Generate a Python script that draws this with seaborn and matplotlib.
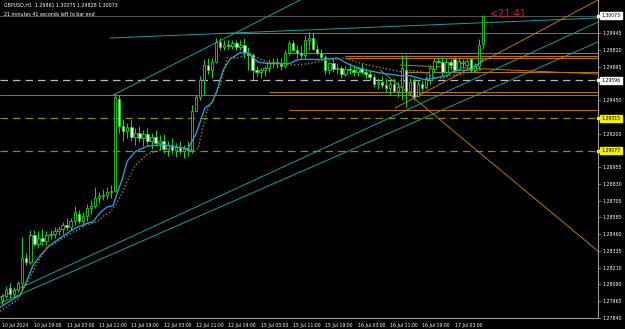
import matplotlib
matplotlib.use("Agg")
import matplotlib.pyplot as plt
import matplotlib.transforms as mtransforms
import seaborn as sns
import pandas as pd
import numpy as np

# ---------------- data ----------------
opens = [1.2797,1.2800,1.2806,1.2802,1.2805,1.2810,1.2828,1.2825,1.2845,1.2839,
         1.2843,1.2841,1.2845,1.2846,1.2848,1.2850,1.2853,1.2851,1.2856,1.2861,
         1.2856,1.2859,1.2865,1.2867,1.2873,1.2874,1.2875,1.2877,1.2878,1.2946,
         1.2926,1.2922,1.2925,1.2918,1.2921,1.2917,1.2920,1.2915,1.2918,1.2913,
         1.2915,1.2909,1.2912,1.2908,1.2910,1.2907,1.2909,1.2908,1.2937,1.2947,
         1.2960,1.2971,1.2967,1.2973,1.2988,1.2984,1.2986,1.2985,1.2987,1.2984,
         1.2986,1.2980,1.2978,1.2967,1.2966,1.2967,1.2969,1.2972,1.2973,1.2972,
         1.2970,1.2980,1.2987,1.2982,1.2980,1.2978,1.2989,1.2991,1.2983,1.2980,
         1.2977,1.2967,1.2972,1.2968,1.2969,1.2964,1.2968,1.2967,1.2966,1.2969,
         1.2966,1.2964,1.2962,1.2957,1.2958,1.2956,1.2954,1.2957,1.2952,1.2955,
         1.2967,1.2952,1.2959,1.2948,1.2957,1.2955,1.2960,1.2968,1.2974,1.2973,
         1.2966,1.2973,1.2975,1.2968,1.2972,1.2971,1.2975,1.2967,1.2970,1.29861]
highs = [1.2802,1.2808,1.2810,1.2807,1.2811,1.2844,1.2832,1.2849,1.2849,1.2848,
         1.2850,1.2848,1.2849,1.2851,1.2852,1.2855,1.2858,1.2858,1.2867,1.2864,
         1.2862,1.2868,1.2871,1.2881,1.2877,1.2879,1.2881,1.2882,1.2950,1.2949,
         1.2931,1.2928,1.2930,1.2924,1.2926,1.2923,1.2924,1.2921,1.2923,1.2919,
         1.2920,1.2915,1.2917,1.2913,1.2915,1.2912,1.2915,1.2941,1.2949,1.2963,
         1.2975,1.2976,1.2976,1.2991,1.2991,1.2989,1.2989,1.2989,1.2989,1.2989,
         1.2991,1.2984,1.2980,1.2970,1.2969,1.2970,1.2975,1.2976,1.2976,1.2976,
         1.2982,1.2989,1.2989,1.2986,1.2986,1.2993,1.2995,1.2995,1.2986,1.2983,
         1.2978,1.2973,1.2975,1.2972,1.2970,1.2970,1.2972,1.2970,1.2970,1.2972,
         1.2969,1.2967,1.2964,1.2961,1.2963,1.2961,1.2960,1.2961,1.2958,1.2978,
         1.2978,1.2961,1.2961,1.2960,1.2960,1.2963,1.2971,1.2976,1.2977,1.2977,
         1.2976,1.2975,1.2977,1.2976,1.2975,1.2975,1.2976,1.2972,1.2990,1.30075]
lows = [1.2794,1.2799,1.2799,1.2799,1.2803,1.2805,1.2823,1.2824,1.2837,1.2836,
        1.2838,1.2838,1.2842,1.2843,1.2845,1.2846,1.2849,1.2849,1.2853,1.2854,
        1.2852,1.2856,1.2861,1.2865,1.2869,1.2871,1.2872,1.2873,1.2877,1.2921,
        1.2915,1.2917,1.2915,1.2912,1.2914,1.2911,1.2912,1.2909,1.2911,1.2908,
        1.2906,1.2904,1.2906,1.2903,1.2905,1.2902,1.2904,1.2906,1.2936,1.2945,
        1.2949,1.2964,1.2961,1.2972,1.2982,1.2982,1.2983,1.2983,1.2982,1.2982,
        1.2976,1.2967,1.2960,1.2963,1.2961,1.2963,1.2966,1.2969,1.2969,1.2967,
        1.2969,1.2978,1.2981,1.2976,1.2975,1.2976,1.2982,1.2982,1.2978,1.2975,
        1.2964,1.2964,1.2966,1.2964,1.2961,1.2963,1.2964,1.2963,1.2963,1.2964,
        1.2961,1.2960,1.2955,1.2953,1.2954,1.2951,1.2949,1.2951,1.2947,1.2945,
        1.2940,1.2949,1.2945,1.2947,1.2952,1.2953,1.2957,1.2966,1.2972,1.2963,
        1.2965,1.2967,1.2966,1.2967,1.2969,1.2969,1.2966,1.2966,1.2967,1.29828]
closes = [1.2800,1.2805,1.2802,1.2805,1.2810,1.2828,1.2825,1.2845,1.2839,1.2843,
          1.2841,1.2845,1.2846,1.2848,1.2850,1.2853,1.2851,1.2856,1.2862,1.2856,
          1.2859,1.2865,1.2867,1.2873,1.2874,1.2875,1.2877,1.2878,1.2947,1.2926,
          1.2922,1.2925,1.2918,1.2921,1.2917,1.2920,1.2915,1.2918,1.2913,1.2915,
          1.2909,1.2912,1.2908,1.2910,1.2907,1.2909,1.2908,1.2937,1.2947,1.2960,
          1.2971,1.2967,1.2973,1.2988,1.2984,1.2986,1.2985,1.2987,1.2984,1.2986,
          1.2980,1.2978,1.2967,1.2966,1.2967,1.2969,1.2972,1.2973,1.2972,1.2970,
          1.2980,1.2987,1.2982,1.2980,1.2978,1.2989,1.2991,1.2983,1.2980,1.2977,
          1.2967,1.2972,1.2968,1.2969,1.2964,1.2968,1.2967,1.2966,1.2969,1.2966,
          1.2964,1.2962,1.2957,1.2958,1.2956,1.2954,1.2957,1.2952,1.2955,1.2969,
          1.2952,1.2958,1.2947,1.2957,1.2954,1.2961,1.2969,1.2974,1.2973,1.2966,
          1.2973,1.2971,1.2967,1.2974,1.2973,1.2974,1.2967,1.2970,1.2986,1.30073]

ma_fast_bar = [-0.5,4.5,6.2,7.7,9.4,11.9,14.4,16.8,18.6,21,22.5,24.3,26,27.5,28.7,29.7,
               31,33,36,40,44,46,48,50.2,52,53.2,54.7,56.4,58.9,60.6,61.9,63.4,65.6,
               68.8,71.3,72.5,73.8,77,78.7,82.9,83.7,85.4,87.9,90.3,93.6,98.5,101,
               103.5,104.7,106.7,108.4,110.1,111.6,113.4,115.1,116.6,117.8,118.6,119]
ma_fast_val = [1.2792,1.2801,1.2812,1.2823,1.2830,1.2838,1.2843,1.2848,1.2851,1.2854,
               1.2855,1.2862,1.2866,1.2867,1.2878,1.2886,1.2900,1.2907,1.2911,1.2912,
               1.2910,1.2909,1.2920,1.2939,1.2943,1.2952,1.2967,1.2975,1.2980,1.2980,
               1.2977,1.2973,1.2972,1.2972,1.2972,1.2974,1.2975,1.2975,1.2975,1.2976,
               1.2975,1.2972,1.2969,1.2967,1.2965,1.2963,1.2963,1.2961,1.2960,1.2961,
               1.2962,1.2963,1.2966,1.2967,1.2967,1.2968,1.2971,1.2973,1.2975]
ma_slow_bar = [-0.5,3.7,5.2,7,8.7,11.1,13.6,16.1,18.6,21,23.5,25,26.7,28,29.9,
               31,33,36,40,44,46,48.5,50.7,52.2,54,55.7,58.2,60.2,61.9,63.4,65.6,
               68.1,71.3,73,76.2,78.7,82.9,84.4,86.9,90.3,93.6,98.5,101.7,104.7,
               106.7,109.2,110.9,113.4,116.6,118.3,119]
ma_slow_val = [1.2789,1.2797,1.2805,1.2814,1.2825,1.2836,1.2840,1.2845,1.2849,1.2853,
               1.2855,1.2859,1.2862,1.2867,1.2877,1.2885,1.2897,1.2905,1.2909,1.2910,
               1.2908,1.2909,1.2937,1.2945,1.2956,1.2976,1.2976,1.2978,1.2978,1.2976,
               1.2973,1.2971,1.2971,1.2971,1.2972,1.2974,1.2975,1.2976,1.2974,1.2971,
               1.2969,1.2966,1.2967,1.2965,1.2962,1.2961,1.2963,1.2964,1.2966,1.2967,
               1.2969]

tick_bars = [0, 8, 16, 24, 32, 40, 48, 56, 64, 72, 80, 88, 96, 104, 112]
tick_labels = ["10 Jul 2024", "10 Jul 19:00", "11 Jul 03:00", "11 Jul 11:00",
               "11 Jul 19:00", "12 Jul 03:00", "12 Jul 11:00", "12 Jul 19:00",
               "15 Jul 03:00", "15 Jul 11:00", "15 Jul 19:00", "16 Jul 03:00",
               "16 Jul 11:00", "16 Jul 19:00", "17 Jul 03:00"]
price_ticks = [1.29945, 1.29820, 1.29695, 1.29575, 1.29450, 1.29200, 1.28955,
               1.28830, 1.28705, 1.28585, 1.28460, 1.28335, 1.28210, 1.28090,
               1.27965, 1.27840]

bid_price = 1.30073
gray_dash_price = 1.29596
olive_dash_prices = [1.29315, 1.29077]
teal_hlines = [1.29487]
# trend lines: (bar1, price1, bar2, price2)
teal_trend = [(-0.5, 1.27994, 147.5, 1.30026),
              (-0.5, 1.27950, 147.5, 1.29879),
              (27.5, 1.29487, 73.8, 1.30189),
              (26.7, 1.29908, 147.5, 1.30056),
              (55.0, 1.29945, 147.5, 1.29945)]
orange_trend = [(93.6, 1.29672, 147.5, 1.28334),
                (97.3, 1.29391, 147.5, 1.30189),
                (98.5, 1.29709, 147.5, 1.29642),
                (71.0, 1.29797, 147.5, 1.29797),
                (85.0, 1.29775, 147.5, 1.29775),
                (85.0, 1.29760, 147.5, 1.29760),
                (66.0, 1.29509, 147.5, 1.29509),
                (71.0, 1.29376, 147.5, 1.29376),
                (100.0, 1.29657, 147.5, 1.29657)]

header = "GBPUSD,H1  1.29861 1.30075 1.29828 1.30073"
subheader = "21 minutes 41 seconds left to bar end"
timer_text = "<21:41"

# ---------------- styling ----------------
sns.set_theme(style="dark")
plt.rcParams["font.family"] = ["DejaVu Sans"]

W, H = 625, 329
fig = plt.figure(figsize=(W / 100, H / 100), dpi=100, facecolor="black")
ax = fig.add_axes([0, (H - 318) / H, 598 / W, 318 / H])
ax.set_facecolor("black")
ax.set_xlim(-0.5, 147.5)
ax.set_ylim(1.27840, 1.30189)
ax.grid(False)

TEAL = "#1a9e9e"
ORANGE = "#c07408"
GREEN = "#1fd21f"

# horizontal/levels
ax.axhline(bid_price, color="#505050", lw=0.8, zorder=1)
ax.axhline(gray_dash_price, color="#b8b8b8", lw=0.9, dashes=(6, 4), zorder=1)
for p in olive_dash_prices:
    ax.axhline(p, color="#8c8c00", lw=0.9, dashes=(6, 4), zorder=1)
for p in teal_hlines:
    ax.axhline(p, color=TEAL, lw=0.7, zorder=1)

lines_df = []
for k, (b1, p1, b2, p2) in enumerate(teal_trend):
    lines_df.append(pd.DataFrame({"bar": [b1, b2], "price": [p1, p2], "id": f"t{k}"}))
for k, (b1, p1, b2, p2) in enumerate(orange_trend):
    lines_df.append(pd.DataFrame({"bar": [b1, b2], "price": [p1, p2], "id": f"o{k}"}))
lines_df = pd.concat(lines_df)
palette = {i: (TEAL if i.startswith("t") else ORANGE) for i in lines_df["id"].unique()}
sns.lineplot(data=lines_df, x="bar", y="price", hue="id", palette=palette,
             lw=0.7, legend=False, ax=ax, zorder=2, estimator=None, sort=False)

# candles
df = pd.DataFrame({"o": opens, "h": highs, "l": lows, "c": closes})
df["bar"] = np.arange(len(df))
ax.vlines(df["bar"], df["l"], df["h"], color=GREEN, lw=0.7, zorder=3)
bull = df["c"] >= df["o"]
body_lo = np.minimum(df["o"], df["c"])
body_h = np.maximum(np.abs(df["c"] - df["o"]), 0.00002)
ax.bar(df["bar"][bull], body_h[bull], bottom=body_lo[bull], width=0.6,
       color="black", edgecolor=GREEN, linewidth=0.6, zorder=4)
ax.bar(df["bar"][~bull], body_h[~bull], bottom=body_lo[~bull], width=0.6,
       color="#eaffea", edgecolor=GREEN, linewidth=0.6, zorder=4)

# moving averages
sns.lineplot(x=ma_fast_bar, y=ma_fast_val, color="#1e9be0", lw=1.0, ax=ax, zorder=5)
sns.lineplot(x=ma_slow_bar, y=ma_slow_val, color="#a8860c", lw=1.0, ax=ax,
             zorder=5, linestyle=(0, (1, 1.5)))

# axes styling
for s in ["left", "top"]:
    ax.spines[s].set_visible(False)
ax.spines["right"].set_color("#9a9a9a")
ax.spines["bottom"].set_color("#9a9a9a")
ax.spines["right"].set_linewidth(0.8)
ax.spines["bottom"].set_linewidth(0.8)
ax.yaxis.tick_right()
ax.set_yticks(price_ticks)
ax.set_yticklabels([f"{p:.5f}" for p in price_ticks])
ax.tick_params(axis="y", colors="#9a9a9a", labelcolor="white", labelsize=3.4,
               length=2, width=0.5, pad=1, direction="out")
ax.set_xticks(tick_bars)
ax.set_xticklabels(tick_labels)
ax.tick_params(axis="x", colors="#9a9a9a", labelcolor="white", labelsize=3.3,
               length=2, width=0.5, pad=1.5, direction="out")
for lab in ax.get_xticklabels():
    lab.set_ha("left")
ax.set_xlabel("")
ax.set_ylabel("")

# price boxes on right
trans = mtransforms.blended_transform_factory(ax.transAxes, ax.transData)
def box(price, fc, tc):
    ax.text(1.006, price, f"{price:.5f}", transform=trans, fontsize=3.3, color=tc,
            ha="left", va="center", zorder=10, clip_on=False,
            bbox=dict(boxstyle="square,pad=0.25", fc=fc, ec=fc))
    ax.plot([1.0], [price], marker="s", ms=1.6, color=fc, transform=trans,
            clip_on=False, zorder=10)
box(bid_price, "white", "black")
box(gray_dash_price, "white", "black")
for p in olive_dash_prices:
    box(p, "#f0f000", "black")

# texts
fig.text(0.006, 0.992, header, fontsize=3.4, color="white", va="top", ha="left")
fig.text(0.006, 0.965, subheader, fontsize=3.4, color="white", va="top", ha="left")
ax.text(120.8, 1.30085, timer_text, fontsize=7, color="#d42020", ha="left",
        va="center", zorder=10)

fig.savefig("out.png", dpi=100, facecolor="black")
